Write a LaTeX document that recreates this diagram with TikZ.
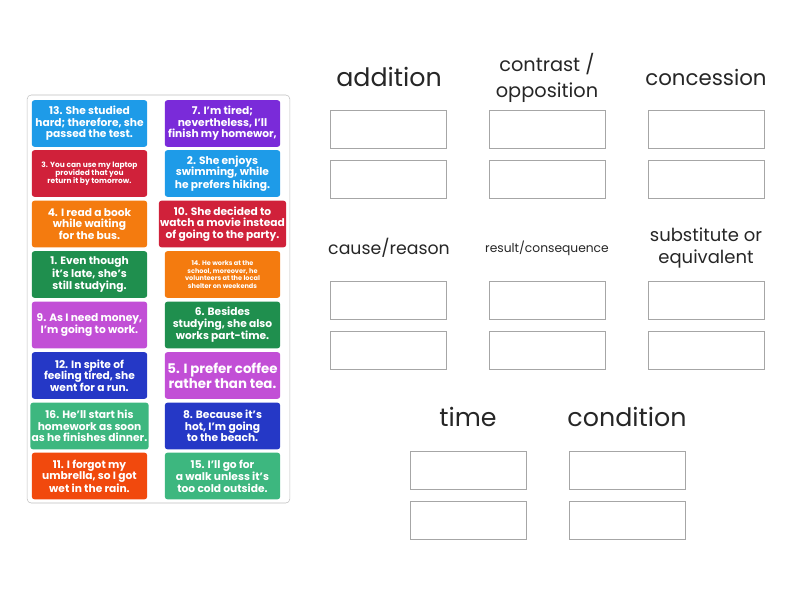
\documentclass[tikz,border=0pt]{standalone}
\usepackage{fontspec}
\setmainfont{Poppins}
\begin{document}
\begin{tikzpicture}[x=0.75pt,y=-0.75pt,
 card/.style={draw=none,fill=#1,rounded corners=2pt,minimum width=86.5pt,minimum height=35pt,inner sep=1pt,text=white,align=center,font=\fontsize{8}{8.6}\selectfont\bfseries},
 small/.style={font=\fontsize{5.6}{6.2}\selectfont\bfseries},
 slot/.style={draw=black!35,line width=0.6pt,minimum width=87pt,minimum height=28.5pt,inner sep=0pt},
 head/.style={text=black!85,align=center,inner sep=0pt}]
\useasboundingbox (0,0) rectangle (800,600);
\definecolor{cblue}{HTML}{1E9BE8}\definecolor{cpurple}{HTML}{7A2BD9}
\definecolor{cred}{HTML}{D0213A}\definecolor{corange}{HTML}{F47B0F}
\definecolor{cgreen}{HTML}{1F8F4E}\definecolor{cmag}{HTML}{C24FD6}
\definecolor{cdblue}{HTML}{2538C6}\definecolor{cteal}{HTML}{3DB77F}
\definecolor{cro}{HTML}{F1490D}
\node[draw=black!25,rounded corners=3pt,minimum width=197pt,minimum height=306pt,inner sep=0pt] (panel) at (158.5,299) {};
\node[card=cblue] (c13) at (89.5,123.5) {13. She studied\\hard; therefore, she\\passed the test.};
\node[card=cpurple] (c7) at (222.5,123.5) {7. I'm tired;\\nevertheless, I'll\\finish my homewor,};
\node[card=cred,small] (c3) at (89.5,173.5) {3. You can use my laptop\\provided that you\\return it by tomorrow.};
\node[card=cblue] (c2) at (222.5,173.5) {2. She enjoys\\swimming, while\\he prefers hiking.};
\node[card=corange] (c4) at (89.5,224) {4. I read a book\\while waiting\\for the bus.};
\node[card=cred] (c10) at (222.5,224) {10. She decided to\\watch a movie instead\\of going to the party.};
\node[card=cgreen] (c1) at (89.5,274.5) {1. Even though\\it's late, she's\\still studying.};
\node[card=corange,small,font=\fontsize{4.9}{5.6}\selectfont\bfseries] (c14) at (222.5,274.5) {14. He works at the\\school, moreover, he\\volunteers at the local\\shelter on weekends};
\node[card=cmag] (c9) at (89.5,325) {9. As I need money,\\I'm going to work.};
\node[card=cgreen] (c6) at (222.5,325) {6. Besides\\studying, she also\\works part-time.};
\node[card=cdblue] (c12) at (89.5,375.5) {12. In spite of\\feeling tired, she\\went for a run.};
\node[card=cmag,font=\fontsize{10}{11}\selectfont\bfseries] (c5) at (222.5,375.5) {5. I prefer coffee\\rather than tea.};
\node[card=cteal] (c16) at (89.5,426) {16. He'll start his\\homework as soon\\as he finishes dinner.};
\node[card=cdblue] (c8) at (222.5,426) {8. Because it's\\hot, I'm going\\to the beach.};
\node[card=cro] (c11) at (89.5,476) {11. I forgot my\\umbrella, so I got\\wet in the rain.};
\node[card=cteal] (c15) at (222.5,476) {15. I'll go for\\a walk unless it's\\too cold outside.};
% headings
\node[head,font=\fontsize{19}{21}\selectfont] (h1) at (389,77) {addition};
\node[head,font=\fontsize{14.5}{19}\selectfont] (h2) at (547,78) {contrast /\\opposition};
\node[head,font=\fontsize{16}{18}\selectfont] (h3) at (706,77) {concession};
\node[head,font=\fontsize{13}{15}\selectfont] (h4) at (389,248) {cause/reason};
\node[head,font=\fontsize{9.2}{11}\selectfont] (h5) at (547,248) {result/consequence};
\node[head,font=\fontsize{13.5}{17}\selectfont] (h6) at (706,248) {substitute or\\equivalent};
\node[head,font=\fontsize{19}{21}\selectfont] (h7) at (468,417) {time};
\node[head,font=\fontsize{19}{21}\selectfont] (h8) at (627,417) {condition};
% slots
\foreach \x/\n in {388/a,547/b,706/c}{
 \node[slot] (s\n1) at (\x,129) {};
 \node[slot] (s\n2) at (\x,179) {};
 \node[slot] (s\n3) at (\x,300) {};
 \node[slot] (s\n4) at (\x,350) {};}
\foreach \x/\n in {468/d,627/e}{
 \node[slot] (s\n1) at (\x,470) {};
 \node[slot] (s\n2) at (\x,520) {};}
\end{tikzpicture}
\end{document}
